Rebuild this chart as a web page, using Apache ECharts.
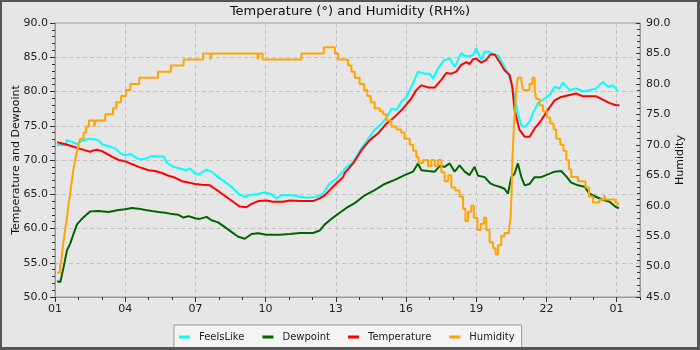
<!DOCTYPE html>
<html>
<head>
<meta charset="utf-8">
<script src="https://cdn.jsdelivr.net/npm/echarts@6/dist/echarts.min.js"></script>
<style>
  html, body { margin: 0; padding: 0; background: #e6e6e6; }
  #chart { width: 700px; height: 350px; }
</style>
</head>
<body>
<div id="chart"></div>
<script>
// Hours elapsed since 01:00, paired with readings.
const feelsLike = [
  [0.09,72.2],[0.44,72.2],[0.51,72.9],[0.73,72.65],[0.94,72.3],[1.15,72.8],[1.44,73.1],[1.72,73.0],
  [1.86,72.9],[2.01,72.3],[2.29,72.0],[2.58,71.7],[2.79,71.0],[3.00,70.7],[3.22,70.9],[3.43,70.4],
  [3.64,70.1],[3.86,70.2],[4.14,70.6],[4.43,70.5],[4.64,70.5],[4.78,69.6],[5.07,69.0],[5.35,68.75],
  [5.57,68.5],[5.78,68.75],[5.99,68.0],[6.19,68.0],[6.48,68.6],[6.69,68.3],[6.97,67.5],[7.26,66.8],
  [7.54,66.1],[7.83,65.1],[8.11,64.6],[8.33,64.9],[8.61,65.0],[8.97,65.3],[9.25,65.0],[9.46,64.4],
  [9.68,64.85],[10.03,64.9],[10.39,64.7],[10.75,64.5],[11.17,64.6],[11.46,65.1],[11.74,66.6],
  [12.03,67.3],[12.31,68.3],[12.38,68.75],[12.74,69.7],[13.09,71.7],[13.38,73.1],[13.66,74.4],
  [13.95,75.3],[14.16,76.1],[14.38,77.5],[14.59,77.3],[14.80,78.5],[15.02,79.2],[15.30,81.2],
  [15.51,82.9],[15.80,82.6],[16.01,82.6],[16.16,81.9],[16.37,83.4],[16.65,84.6],[16.87,84.8],
  [17.08,83.6],[17.36,85.6],[17.58,85.1],[17.86,85.3],[18.00,86.3],[18.22,84.6],[18.36,85.8],
  [18.57,85.8],[18.75,85.4],[18.93,85.3],[19.14,84.1],[19.36,82.6],[19.50,81.2],[19.64,79.2],
  [19.78,76.8],[19.93,75.1],[20.07,74.8],[20.28,75.6],[20.42,76.8],[20.64,78.3],[20.85,78.8],
  [21.14,79.5],[21.35,80.7],[21.56,80.45],[21.71,81.3],[21.99,80.2],[22.28,80.45],[22.56,80.0],
  [22.84,80.2],[23.13,80.45],[23.41,81.4],[23.63,80.7],[23.84,80.9],[24.05,80.1]
];

const dewpoint = [
  [0.09,52.3],[0.23,52.2],[0.37,54.4],[0.51,56.8],[0.65,57.8],[0.80,59.3],[0.94,60.6],[1.15,61.4],
  [1.30,61.9],[1.51,62.5],[1.86,62.55],[2.29,62.4],[2.72,62.7],[3.00,62.8],[3.29,63.0],[3.57,62.9],
  [3.86,62.7],[4.14,62.55],[4.43,62.4],[4.71,62.3],[5.00,62.1],[5.28,62.0],[5.49,61.6],[5.71,61.8],
  [5.99,61.5],[6.19,61.4],[6.48,61.7],[6.69,61.2],[6.97,60.9],[7.26,60.2],[7.54,59.5],[7.83,58.8],
  [8.11,58.5],[8.40,59.2],[8.68,59.3],[9.04,59.1],[9.61,59.1],[10.03,59.2],[10.46,59.35],
  [11.03,59.35],[11.31,59.7],[11.53,60.6],[11.81,61.4],[12.17,62.3],[12.45,63.0],[12.81,63.7],
  [13.24,64.85],[13.66,65.6],[14.09,66.5],[14.52,67.1],[14.94,67.8],[15.30,68.3],[15.51,69.5],
  [15.66,68.5],[15.94,68.4],[16.23,68.3],[16.44,69.1],[16.65,69.0],[16.87,69.5],[17.08,68.3],
  [17.29,69.2],[17.51,68.3],[17.72,67.8],[17.93,69.0],[18.08,67.7],[18.36,67.5],[18.60,66.6],
  [18.79,66.3],[19.00,66.1],[19.21,65.8],[19.36,65.1],[19.50,67.5],[19.64,68.0],[19.78,69.5],
  [19.93,67.5],[20.07,66.3],[20.28,66.5],[20.50,67.5],[20.78,67.5],[21.06,67.9],[21.35,68.3],
  [21.63,68.4],[21.85,67.6],[22.06,66.7],[22.35,66.3],[22.63,66.1],[22.84,65.1],[23.13,64.6],
  [23.41,64.2],[23.70,63.9],[23.98,63.1],[24.10,63.0]
];

const temperature = [
  [0.09,72.6],[0.44,72.3],[0.73,72.0],[1.01,71.7],[1.30,71.4],[1.51,71.2],[1.65,71.4],[1.79,71.5],
  [2.01,71.3],[2.22,70.9],[2.43,70.5],[2.72,70.0],[3.00,69.8],[3.29,69.4],[3.57,69.0],[4.00,68.5],
  [4.28,68.4],[4.57,68.1],[4.85,67.7],[5.14,67.4],[5.42,66.9],[5.71,66.7],[5.99,66.5],[6.28,66.4],
  [6.62,66.3],[6.83,65.8],[7.04,65.3],[7.33,64.6],[7.61,63.9],[7.90,63.2],[8.18,63.1],[8.40,63.6],
  [8.68,64.0],[9.04,64.1],[9.32,63.9],[9.75,63.9],[10.03,64.1],[10.46,64.0],[11.03,64.0],
  [11.31,64.4],[11.53,64.85],[11.74,65.6],[12.03,66.6],[12.31,67.5],[12.38,68.1],[12.74,69.5],
  [13.09,71.4],[13.45,72.9],[13.81,73.9],[14.16,75.3],[14.52,76.3],[14.87,77.5],[15.23,79.0],
  [15.44,80.2],[15.66,80.9],[15.94,80.6],[16.23,80.6],[16.51,81.7],[16.72,82.7],[16.94,82.6],
  [17.15,82.9],[17.36,83.9],[17.58,84.3],[17.72,84.0],[17.86,84.7],[18.00,84.8],[18.22,84.2],
  [18.43,84.6],[18.60,85.4],[18.79,85.4],[19.00,84.3],[19.21,83.1],[19.43,82.4],[19.54,80.7],
  [19.64,77.3],[19.85,74.4],[20.07,73.4],[20.28,73.4],[20.50,74.6],[20.78,75.8],[21.06,77.3],
  [21.35,78.7],[21.63,79.2],[21.99,79.5],[22.28,79.7],[22.56,79.3],[23.13,79.3],[23.41,78.8],
  [23.70,78.3],[23.98,78.0],[24.12,78.0]
];

// Humidity is logged as steps: each value holds until the next entry.
const humidity = [
  [0.09,49],[0.22,50],[0.27,51],[0.30,52],[0.33,53],[0.36,54],[0.40,55],[0.43,56],[0.47,57],
  [0.51,58],[0.54,59],[0.57,60],[0.61,61],[0.65,62],[0.68,63],[0.72,64],[0.75,65],[0.79,66],
  [0.84,67],[0.89,68],[0.94,69],[1.01,70],[1.08,71],[1.22,72],[1.33,73],[1.45,74],[1.68,73],
  [1.74,74],[2.15,75],[2.48,76],[2.62,77],[2.82,78],[3.03,79],[3.22,80],[3.60,81],[4.40,82],
  [4.95,83],[5.50,84],[6.33,85],[6.64,84],[6.69,85],[8.66,84],[8.72,85],[8.87,84],[10.53,85],
  [11.49,86],[11.96,85],[12.10,84],[12.52,83],[12.67,82],[12.81,81],[13.02,80],[13.21,79],
  [13.35,78],[13.49,77],[13.66,76],[13.88,75.5],[14.02,75],[14.16,74],[14.38,73],[14.59,72.5],
  [14.80,72],[14.94,71],[15.16,70],[15.30,69],[15.44,68],[15.54,67],[15.73,67.5],[15.94,66.5],
  [16.08,67.5],[16.23,66.5],[16.37,67.5],[16.51,65.5],[16.65,64],[16.80,65],[16.94,63],
  [17.11,62.5],[17.29,61.5],[17.44,59.5],[17.54,57.5],[17.65,59],[17.79,60],[17.90,58],
  [18.05,56],[18.19,57],[18.33,58],[18.43,56],[18.57,54],[18.72,53],[18.83,52],[18.93,53.5],
  [19.07,55],[19.21,55.5],[19.40,56],[19.47,58],[19.51,62],[19.54,67],[19.60,72],[19.66,76],
  [19.71,79],[19.78,81],[19.93,80.5],[20.00,79],[20.28,80],[20.40,81],[20.50,79],[20.57,77.5],
  [20.71,76.5],[20.85,75.5],[21.02,74.5],[21.16,73.5],[21.31,72.5],[21.42,71],[21.59,70],
  [21.73,69],[21.85,67.5],[21.96,66],[22.06,64.7],[22.35,64],[22.67,63],[22.82,61.5],
  [22.99,60.5],[23.27,61],[23.48,61.7],[23.52,61],[23.70,61],[23.95,60.5],[24.05,60]
];

const seriesNames = ['FeelsLike', 'Dewpoint', 'Temperature', 'Humidity'];
const seriesColors = ['#00ffff', '#006400', '#ff0000', '#ffa500'];
const hourTicks = [0, 3, 6, 9, 12, 15, 18, 21, 24];

const FONT = 'DejaVu Sans';
const clockLabel = h => String((1 + Math.round(h)) % 24).padStart(2, '0');

const chart = echarts.init(document.getElementById('chart'), null, { renderer: 'canvas' });

const axisText = { fontFamily: FONT, fontSize: 11, color: '#222' };
const tickStyle = { color: '#333', width: 1 };
const gridLineStyle = { color: '#c2c2c2', width: 1, type: [4, 3] };

chart.setOption({
  animation: false,
  backgroundColor: '#e6e6e6',
  title: {
    text: 'Temperature (°) and Humidity (RH%)',
    left: 'center',
    top: 5,
    padding: 0,
    textStyle: { fontFamily: FONT, fontSize: 13, fontWeight: 'normal', color: '#111' }
  },
  legend: {
    data: seriesNames,
    left: 174,
    top: 325,
    padding: [5, 7, 5, 5],
    itemGap: 18,
    itemWidth: 11,
    itemHeight: 3,
    icon: 'rect',
    backgroundColor: '#f4f4f4',
    borderColor: '#999',
    borderWidth: 1,
    borderRadius: 0,
    textStyle: { fontFamily: FONT, fontSize: 10, color: '#222', padding: [0, 0, 0, 4], lineHeight: 14 }
  },
  grid: {
    left: 55, top: 23, width: 585, height: 274,
    containLabel: false, outerBoundsMode: 'none',
    show: true, borderColor: '#999', borderWidth: 1, backgroundColor: 'transparent'
  },
  xAxis: [
    {
      type: 'value', min: 0, max: 25, interval: 3, position: 'bottom',
      axisLine: { show: true, onZero: false, lineStyle: { color: '#999' } },
      axisTick: { show: true, length: 5, lineStyle: tickStyle },
      axisLabel: Object.assign({
        margin: 7, showMaxLabel: false,
        formatter: v => hourTicks.indexOf(v) >= 0 ? clockLabel(v) : ''
      }, axisText),
      splitLine: { show: true, lineStyle: gridLineStyle }
    },
    {
      // hourly minor ticks along the time axis
      type: 'value', min: 0, max: 25, interval: 1, position: 'bottom',
      axisLine: { show: false },
      axisTick: { show: true, length: 3, lineStyle: tickStyle },
      axisLabel: { show: false },
      splitLine: { show: false }
    }
  ],
  yAxis: [
    {
      type: 'value', min: 50, max: 90, interval: 5, position: 'left',
      name: 'Temperature and Dewpoint', nameLocation: 'middle', nameGap: 33, nameRotate: 90,
      nameMoveOverlap: false,
      nameTextStyle: { fontFamily: FONT, fontSize: 11, color: '#111' },
      axisLine: { show: true, onZero: false, lineStyle: { color: '#999' } },
      axisTick: { show: true, length: 5, lineStyle: tickStyle },
      minorTick: { show: true, splitNumber: 5, length: 3, lineStyle: tickStyle },
      axisLabel: Object.assign({ margin: 7, formatter: v => v.toFixed(1) }, axisText),
      splitLine: { show: true, lineStyle: gridLineStyle }
    },
    {
      type: 'value', min: 45, max: 90, interval: 5, position: 'right',
      name: 'Humidity', nameLocation: 'middle', nameGap: 35, nameRotate: 90,
      nameMoveOverlap: false,
      nameTextStyle: { fontFamily: FONT, fontSize: 11, color: '#111' },
      axisLine: { show: true, onZero: false, lineStyle: { color: '#999' } },
      axisTick: { show: true, inside: true, length: 4, lineStyle: tickStyle },
      minorTick: { show: true, splitNumber: 5, length: 3, lineStyle: tickStyle },
      axisLabel: Object.assign({ margin: 6, formatter: v => v.toFixed(1) }, axisText),
      splitLine: { show: false }
    }
  ],
  series: [
    { name: seriesNames[0], data: feelsLike, yAxisIndex: 0 },
    { name: seriesNames[1], data: dewpoint, yAxisIndex: 0 },
    { name: seriesNames[2], data: temperature, yAxisIndex: 0 },
    { name: seriesNames[3], data: humidity, yAxisIndex: 1, step: 'end' }
  ].map((s, i) => Object.assign({
    type: 'line',
    xAxisIndex: 0,
    showSymbol: false,
    symbol: 'none',
    color: seriesColors[i],
    lineStyle: { color: seriesColors[i], width: 2 },
    z: 2 + i
  }, s)),
  graphic: [
    // dark outer frame
    { type: 'rect', shape: { x: 0, y: 0, width: 700, height: 2 }, style: { fill: '#555' }, silent: true, z: 100 },
    { type: 'rect', shape: { x: 0, y: 0, width: 2, height: 350 }, style: { fill: '#555' }, silent: true, z: 100 },
    { type: 'rect', shape: { x: 697, y: 0, width: 3, height: 350 }, style: { fill: '#555' }, silent: true, z: 100 },
    { type: 'rect', shape: { x: 0, y: 347, width: 700, height: 3 }, style: { fill: '#555' }, silent: true, z: 100 }
  ]
});
</script>
</body>
</html>
